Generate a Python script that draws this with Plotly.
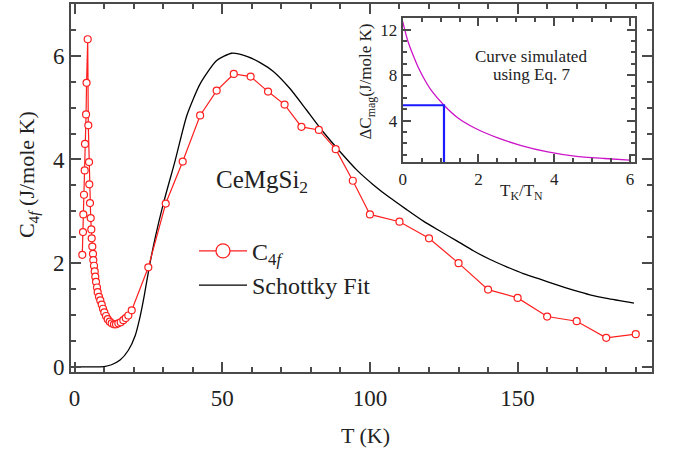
import plotly.graph_objects as go

# ---- measured 4f specific heat of CeMgSi2 ----
c4f_T = [2.6, 2.84, 2.95, 3.18, 3.42, 3.52, 3.88, 4.05, 4.44,
         4.64, 4.88, 4.98, 5.21, 5.45, 5.66, 5.79, 6.0,
         6.23, 6.33, 6.57, 6.81, 7.01, 7.25, 7.59, 7.82, 8.26, 8.70, 9.18, 9.62,
         10.06, 10.63, 11.21, 11.89, 12.56, 13.34, 14.02, 14.8, 15.61, 16.49,
         17.3, 18.18, 19.34,
         24.96, 30.85, 36.6, 42.5, 48.1, 53.9, 59.6, 65.5, 71.1, 76.8, 82.7,
         88.4, 94.2,
         100, 110, 120, 130, 140, 150, 160, 170, 180, 190]
c4f_C = [2.16, 2.60, 2.94, 3.32, 3.79, 4.30, 4.87, 5.48, 6.32,
         4.66, 3.95, 3.52, 3.16, 2.87, 2.65, 2.48, 2.32,
         2.18, 2.06, 1.95, 1.84, 1.74, 1.64, 1.53, 1.44, 1.35, 1.28, 1.20, 1.12,
         1.05, 0.98, 0.92, 0.87, 0.84, 0.82, 0.82, 0.84, 0.86, 0.90,
         0.94, 0.99, 1.09,
         1.92, 3.15, 3.96, 4.85, 5.33, 5.65, 5.60, 5.31, 5.06, 4.63, 4.57,
         4.20, 3.59,
         2.94, 2.80, 2.48, 2.00, 1.49, 1.33, 0.97, 0.88, 0.56, 0.63]

# ---- Schottky fit ----
sch_T = [0, 5, 10, 12.5, 15.4, 18.2, 20.5, 22.1, 23.6, 25.2, 27.2, 30.0, 34.0,
         38.0, 42.5, 48.1, 53.2, 58.3, 62.8, 67.3, 72.9, 78.6, 84.2, 89.9, 95.5,
         101.2, 106.8, 112.5, 118.1, 123.7, 129.4, 135.0, 140.7, 146.3, 151.9,
         157.6, 163.3, 168.9, 174.5, 180.2, 189.4]
sch_C = [0, 0, 0.005, 0.04, 0.13, 0.32, 0.60, 0.95, 1.38, 1.90, 2.47, 3.14, 3.97,
         4.85, 5.46, 5.91, 6.05, 5.99, 5.87, 5.70, 5.37, 4.95, 4.53, 4.15, 3.80,
         3.51, 3.26, 3.03, 2.81, 2.62, 2.43, 2.24, 2.07, 1.93, 1.80,
         1.69, 1.58, 1.48, 1.39, 1.32, 1.23]

# ---- inset: simulated jump vs TK/TN (Eq. 7) ----
sim_x = [0, 0.14, 0.27, 0.40, 0.58, 0.76, 1.09, 1.46, 1.90, 2.51, 3.13, 3.83,
         4.54, 5.33, 5.99]
sim_y = [12.7, 10.95, 9.78, 8.76, 7.59, 6.63, 5.35, 4.23, 3.35, 2.48, 1.81,
         1.25, 0.88, 0.67, 0.53]
mark_x = [0, 1.09, 1.09]
mark_y = [5.35, 5.35, 0]

FONT = "Liberation Serif, Times New Roman, serif"
AX = "#4a4a4a"
TXT = "#222222"
RED = "#ff1f1f"

# plot-area geometry (px)
L, R, T, B = 71, 21, 2, 78
W, H = 673, 450
PW, PH = W - L - R, H - T - B


def px(xp):
    return (xp - L) / PW


def py(yp):
    return (H - B - yp) / PH


fig = go.Figure()

fig.add_trace(go.Scatter(
    x=sch_T, y=sch_C, mode="lines",
    line=dict(color="black", width=1.3, shape="spline", smoothing=0.6),
    showlegend=False, hoverinfo="skip"))

fig.add_trace(go.Scatter(
    x=c4f_T, y=c4f_C, mode="lines+markers",
    line=dict(color=RED, width=1.2),
    marker=dict(symbol="circle", size=7, color="white",
                line=dict(color=RED, width=1.2)),
    showlegend=False))

# legend entries
fig.add_trace(go.Scatter(
    x=[None], y=[None], mode="lines+markers", name="C<sub>4<i>f</i></sub>",
    line=dict(color=RED, width=1.2),
    marker=dict(symbol="circle", size=14, color="white",
                line=dict(color=RED, width=1.2))))
fig.add_trace(go.Scatter(
    x=[None], y=[None], mode="lines", name="Schottky Fit",
    line=dict(color="black", width=1.3)))

# inset
fig.add_trace(go.Scatter(
    x=sim_x, y=sim_y, mode="lines", xaxis="x2", yaxis="y2",
    line=dict(color="#cc14c8", width=1.3, shape="spline", smoothing=0.8),
    showlegend=False))
fig.add_trace(go.Scatter(
    x=mark_x, y=mark_y, mode="lines", xaxis="x2", yaxis="y2",
    line=dict(color="#1a1aff", width=2.2), showlegend=False))


def axis(**kw):
    base = dict(showline=True, linecolor=AX, linewidth=2, mirror="ticks",
                ticks="inside", tickcolor=AX, tickwidth=1.5,
                showgrid=False, zeroline=False,
                tickfont=dict(family=FONT, color=TXT))
    base.update(kw)
    return base


fig.update_layout(
    width=W, height=H,
    margin=dict(l=L, r=R, t=T, b=B),
    paper_bgcolor="white", plot_bgcolor="white",
    font=dict(family=FONT, color=TXT),
    xaxis=axis(range=[-1.22, 195.5], tick0=0, dtick=50, ticklen=10,
               tickfont=dict(family=FONT, size=23, color=TXT),
               ticklabelstandoff=4,
               minor=dict(dtick=10, ticklen=5, ticks="inside",
                          tickcolor=AX, tickwidth=1.5)),
    yaxis=axis(range=[-0.1, 7.0], tick0=0, dtick=2, ticklen=10,
               tickfont=dict(family=FONT, size=23, color=TXT),
               minor=dict(dtick=0.5, ticklen=5, ticks="inside",
                          tickcolor=AX, tickwidth=1.5)),
    xaxis2=axis(domain=[px(402.7), px(635.3)], anchor="y2",
                range=[0, 6.14], tick0=0, dtick=2, ticklen=8,
                tickfont=dict(family=FONT, size=17, color=TXT),
                minor=dict(dtick=0.5, ticklen=4.5, ticks="inside",
                           tickcolor=AX, tickwidth=1.5)),
    yaxis2=axis(domain=[py(161), py(15.7)], anchor="x2",
                range=[0.35, 13.05], tick0=0, dtick=4, ticklen=8,
                tickfont=dict(family=FONT, size=17, color=TXT),
                minor=dict(dtick=1, ticklen=4.5, ticks="inside",
                           tickcolor=AX, tickwidth=1.5)),
    legend=dict(x=px(194), y=py(228), xanchor="left", yanchor="top",
                bgcolor="rgba(0,0,0,0)", itemwidth=48,
                font=dict(family=FONT, size=24, color=TXT)),
)

ann = [
    dict(text="C<sub>4<i>f</i></sub> (J/mole K)", x=px(28), y=py(174),
         textangle=-90, size=22),
    dict(text="T (K)", x=px(365), y=py(436), textangle=0, size=22),
    dict(text="CeMgSi<sub>2</sub>", x=px(262), y=py(180), textangle=0, size=25),
    dict(text="Curve simulated", x=px(531), y=py(54.5), textangle=0, size=17),
    dict(text="using Eq. 7", x=px(531.3), y=py(72.5), textangle=0, size=17),
    dict(text="\u0394C<sub>mag</sub>(J/mole K)", x=px(367), y=py(80),
         textangle=-90, size=17),
    dict(text="T<sub>K</sub>/T<sub>N</sub>", x=px(521), y=py(191.5),
         textangle=0, size=17),
]
for a in ann:
    fig.add_annotation(text=a["text"], x=a["x"], y=a["y"], xref="paper",
                       yref="paper", showarrow=False, textangle=a["textangle"],
                       xanchor="center", yanchor="middle",
                       font=dict(family=FONT, size=a["size"], color=TXT))

fig.write_html("out.html")
